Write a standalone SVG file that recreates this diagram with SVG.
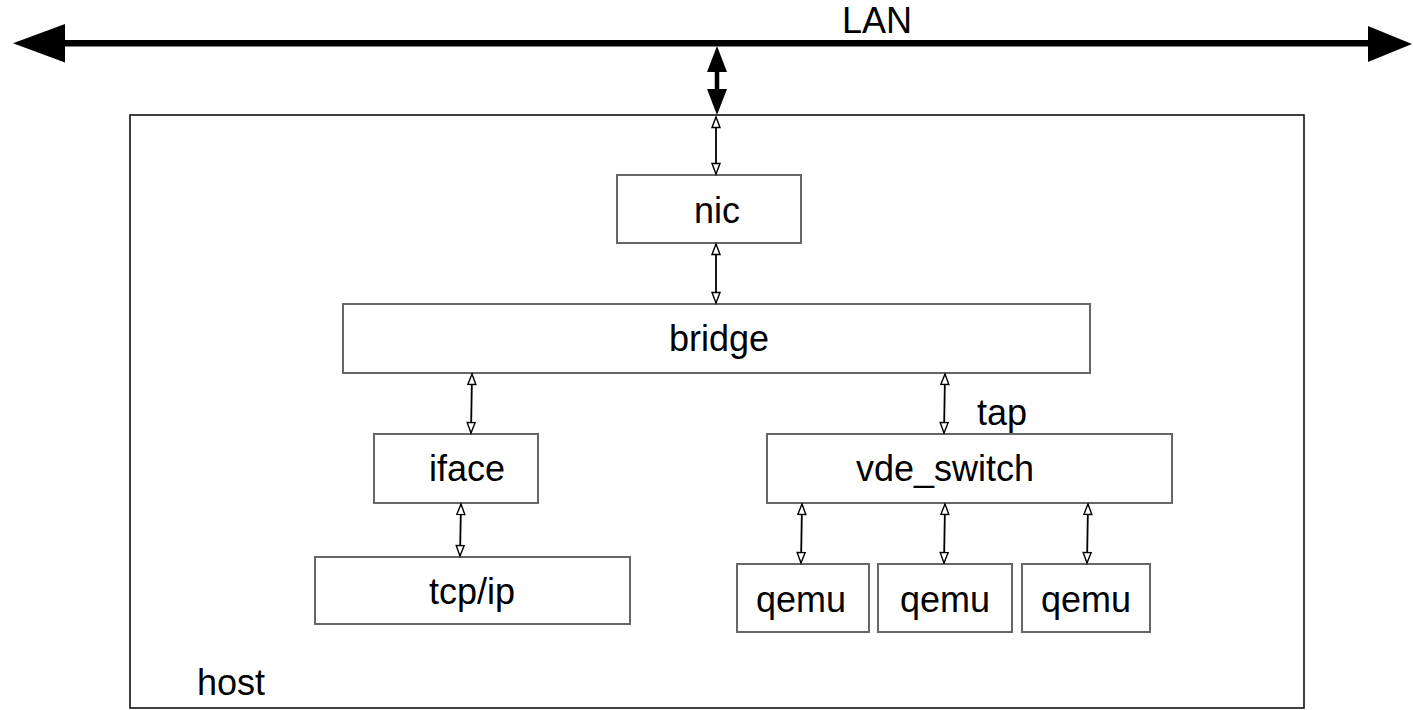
<svg xmlns="http://www.w3.org/2000/svg" width="1413" height="710" viewBox="0 0 1413 710">
<style>
.box{fill:#fff;stroke:#666;stroke-width:2}
.host{fill:#fff;stroke:#111;stroke-width:1.6}
.t{font-family:"Liberation Sans",Arial,sans-serif;font-size:36px;fill:#000}
.c{text-anchor:middle}
.small{stroke:#000;stroke-width:1.8;fill:none;marker-start:url(#oh);marker-end:url(#oh)}
</style>
<defs>
<marker id="oh" markerUnits="userSpaceOnUse" markerWidth="14" markerHeight="12" refX="12" refY="6" orient="auto-start-reverse">
<path d="M1.5,2 L12,6 L1.5,10 Z" fill="#fff" stroke="#000" stroke-width="1.4"/>
</marker>
</defs>
<rect width="1413" height="710" fill="#fff"/>
<g id="host">
<rect class="host" x="130" y="115" width="1174" height="593"/>
<text class="t" x="197" y="695">host</text>
</g>
<g id="lan">
<line x1="60" y1="43.3" x2="1372" y2="43.3" stroke="#000" stroke-width="6.5"/>
<polygon points="13,43.3 65,24 65,62.5" fill="#000"/>
<polygon points="1412,44 1368,26 1368,62" fill="#000"/>
<text class="t c" x="877" y="33">LAN</text>
</g>
<g id="nic">
<rect class="box" x="617" y="175" width="184" height="68"/>
<text class="t c" x="717" y="223">nic</text>
</g>
<g id="bridge">
<rect class="box" x="343" y="304" width="747" height="69"/>
<text class="t c" x="719" y="351">bridge</text>
</g>
<g id="iface">
<rect class="box" x="374" y="434" width="164" height="69"/>
<text class="t c" x="467" y="481">iface</text>
</g>
<g id="tcpip">
<rect class="box" x="315" y="557" width="315" height="67"/>
<text class="t c" x="472" y="604">tcp/ip</text>
</g>
<g id="vde_switch">
<rect class="box" x="767" y="434" width="405" height="69"/>
<text class="t c" x="945" y="481">vde_switch</text>
</g>
<g id="tap">
<text class="t" x="977" y="425">tap</text>
</g>
<g id="qemu1">
<rect class="box" x="737" y="564" width="132" height="68"/>
<text class="t c" x="801" y="612">qemu</text>
</g>
<g id="qemu2">
<rect class="box" x="878" y="564" width="134" height="68"/>
<text class="t c" x="945" y="612">qemu</text>
</g>
<g id="qemu3">
<rect class="box" x="1022" y="564" width="128" height="68"/>
<text class="t c" x="1086" y="612">qemu</text>
</g>
<g id="connectors">
<line x1="717" y1="68" x2="717" y2="93" stroke="#000" stroke-width="4.5"/>
<polygon points="717,46 707,72 727,72" fill="#000"/>
<polygon points="717,115 707,89 727,89" fill="#000"/>
<line class="small" x1="716" y1="117" x2="716" y2="174"/>
<line class="small" x1="716" y1="244" x2="716" y2="303"/>
<line class="small" x1="472" y1="374" x2="471" y2="433"/>
<line class="small" x1="945" y1="374" x2="944" y2="433"/>
<line class="small" x1="461" y1="504" x2="460" y2="556"/>
<line class="small" x1="802" y1="504" x2="801" y2="563"/>
<line class="small" x1="945" y1="504" x2="944" y2="563"/>
<line class="small" x1="1088" y1="504" x2="1087" y2="563"/>
</g>
</svg>
